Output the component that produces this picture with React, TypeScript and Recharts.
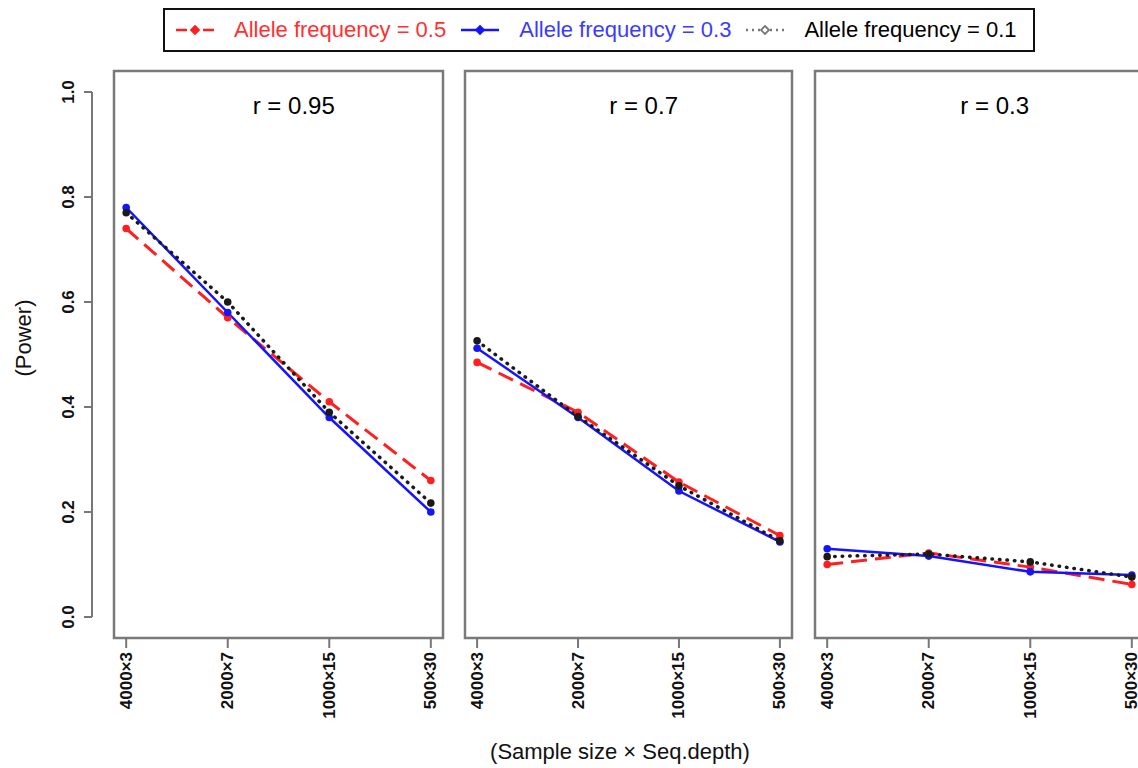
import React from 'react';
import { LineChart, Line, XAxis, YAxis, ReferenceArea, ReferenceDot } from 'recharts';

const categories = ['4000×3', '2000×7', '1000×15', '500×30'];
const panelTitles = ['r = 0.95', 'r = 0.7', 'r = 0.3'];
const yTicks = [0, 0.2, 0.4, 0.6, 0.8, 1.0];

// power per panel (r = 0.95, 0.7, 0.3), one row per sample size × depth
const af05 = [
  [0.74, 0.57, 0.41, 0.26],
  [0.485, 0.39, 0.257, 0.155],
  [0.1, 0.122, 0.095, 0.062],
];
const af03 = [
  [0.78, 0.58, 0.38, 0.2],
  [0.512, 0.38, 0.24, 0.143],
  [0.13, 0.116, 0.086, 0.08],
];
const af01 = [
  [0.77, 0.6, 0.39, 0.217],
  [0.526, 0.382, 0.25, 0.145],
  [0.115, 0.12, 0.105, 0.076],
];

const series = [
  { key: 'a05', name: 'Allele frequency = 0.5', color: '#ff1f1f', text: '#ff3030', dash: '16 8', width: 3, cap: 'butt' },
  { key: 'a03', name: 'Allele frequency = 0.3', color: '#1414ff', text: '#3b3bff', dash: undefined, width: 2.5, cap: 'butt' },
  { key: 'a01', name: 'Allele frequency = 0.1', color: '#1a1a1a', text: '#000000', dash: '0.5 7', width: 3.5, cap: 'round' },
];

const panelBoxes = [
  { left: 0, width: 460, ml: 0, mr: 17 },
  { left: 455, width: 350, ml: 10, mr: 13 },
  { left: 805, width: 360, ml: 10, mr: 21 },
];

const buildRows = (p: number) =>
  categories.map((c, i) => ({ pos: i + 1, label: c, a05: af05[p][i], a03: af03[p][i], a01: af01[p][i] }));

const XTick = (props: any) => {
  const { x, y, payload } = props;
  return (
    <text
      x={x}
      y={y}
      transform={`rotate(-90 ${x} ${y})`}
      textAnchor="end"
      dominantBaseline="central"
      fontSize={17}
      fontWeight="bold"
      fill="#111"
    >
      {categories[payload.value - 1]}
    </text>
  );
};

const YTick = (props: any) => {
  const { y, payload } = props;
  return (
    <g>
      <line x1={84} x2={92} y1={y} y2={y} stroke="#777" strokeWidth={2} />
      <text
        x={68}
        y={y}
        transform={`rotate(-90 68 ${y})`}
        textAnchor="middle"
        dominantBaseline="central"
        fontSize={17}
        fontWeight="bold"
        fill="#111"
      >
        {payload.value.toFixed(1)}
      </text>
    </g>
  );
};

const LegendSymbol = ({ s }: { s: (typeof series)[number] }) => {
  const c = s.key === 'a01' ? '#777' : s.color;
  return (
    <svg width={40} height={20} style={{ marginRight: 19, flexShrink: 0 }}>
      <line
        x1={1}
        x2={39}
        y1={10}
        y2={10}
        stroke={c}
        strokeWidth={2.5}
        strokeDasharray={s.key === 'a05' ? '11 16' : s.key === 'a01' ? '2 4' : undefined}
      />
      <polygon points="20,6 24,10 20,14 16,10" fill={s.key === 'a01' ? '#fff' : c} stroke={c} strokeWidth={1.8} />
    </svg>
  );
};

const App: React.FC = () => {
  return (
    <div
      style={{
        position: 'absolute',
        left: 0,
        top: 0,
        width: 1138,
        height: 768,
        overflow: 'hidden',
        background: '#fff',
        fontFamily: '"Liberation Sans", Arial, sans-serif',
      }}
    >
      <div
        style={{
          position: 'absolute',
          left: 163,
          top: 8,
          width: 872,
          height: 44,
          boxSizing: 'border-box',
          border: '2px solid #111',
          display: 'flex',
          alignItems: 'center',
          paddingLeft: 10,
        }}
      >
        {series.map((s) => (
          <div key={s.key} style={{ display: 'flex', alignItems: 'center', marginRight: 14 }}>
            <LegendSymbol s={s} />
            <span style={{ color: s.text, fontSize: 22, whiteSpace: 'nowrap' }}>{s.name}</span>
          </div>
        ))}
      </div>

      {panelBoxes.map((b, p) => (
        <div key={p} style={{ position: 'absolute', left: b.left, top: 0 }}>
          <LineChart
            width={b.width}
            height={768}
            data={buildRows(p)}
            margin={{ top: 71, right: b.mr, left: b.ml, bottom: 50 }}
          >
            <XAxis
              type="number"
              dataKey="pos"
              domain={[0.88, 4.12]}
              ticks={[1, 2, 3, 4]}
              interval={0}
              axisLine={false}
              tickLine={{ stroke: '#777', strokeWidth: 2 }}
              tickSize={10}
              tickMargin={4}
              height={80}
              tick={<XTick />}
            />
            {p === 0 ? (
              <YAxis
                type="number"
                domain={[-0.04, 1.04]}
                ticks={yTicks}
                width={114}
                axisLine={false}
                tickLine={false}
                tick={<YTick />}
              />
            ) : (
              <YAxis type="number" domain={[-0.04, 1.04]} hide />
            )}
            <ReferenceArea
              x1={0.88}
              x2={4.12}
              y1={-0.04}
              y2={1.04}
              fill="none"
              stroke="#7a7a7a"
              strokeWidth={2.5}
              ifOverflow="visible"
            />
            <ReferenceDot
              x={2.65}
              y={0.975}
              r={0}
              stroke="none"
              fill="none"
              label={{ value: panelTitles[p], position: 'center', fill: '#000', fontSize: 24 }}
            />
            {series.map((s) => (
              <Line
                key={s.key}
                type="linear"
                dataKey={s.key}
                name={s.name}
                stroke={s.color}
                strokeWidth={s.width}
                strokeDasharray={s.dash}
                strokeLinecap={s.cap as any}
                dot={{ r: 3.8, fill: s.color, stroke: 'none' }}
                isAnimationActive={false}
              />
            ))}
          </LineChart>
        </div>
      ))}

      <div style={{ position: 'absolute', left: 91, top: 92, width: 2, height: 525, background: '#777' }} />

      <svg style={{ position: 'absolute', left: 0, top: 0 }} width={1138} height={768} pointerEvents="none">
        <text x={23} y={338} transform="rotate(-90 23 338)" textAnchor="middle" dominantBaseline="central" fontSize={22} fill="#111">
          (Power)
        </text>
        <text x={620} y={751} textAnchor="middle" dominantBaseline="central" fontSize={22} fill="#111">
          (Sample size × Seq.depth)
        </text>
      </svg>
    </div>
  );
};

export default App;
